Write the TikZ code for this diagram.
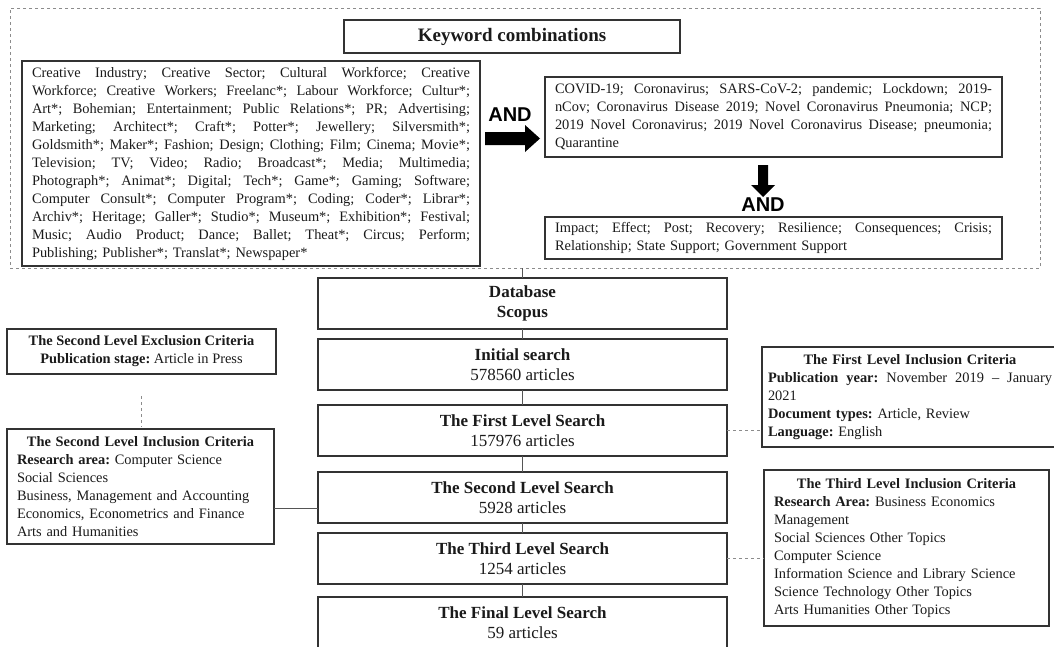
\documentclass[tikz,border=0pt]{standalone}
\usepackage{fontspec}
\setmainfont{Liberation Serif}
\newfontfamily\andfont{Liberation Sans}
\usetikzlibrary{calc}
\definecolor{bordc}{HTML}{333333}
\definecolor{txtc}{HTML}{1A1A1A}
\definecolor{dashc}{HTML}{8C8C8C}
\definecolor{connc}{HTML}{555555}
\newcommand{\jline}[2]{\leavevmode\hbox to #1{\spaceskip=0.25em plus 1fil\relax #2}}
\frenchspacing
\begin{document}
\begin{tikzpicture}[x=1pt,y=-1pt,
  box/.style={draw=bordc, line width=1.1pt, rectangle, inner sep=0pt, outer sep=0pt, text=txtc},
  small/.style={font=\fontsize{14.4}{18}\selectfont\frenchspacing},
  big/.style={font=\fontsize{17}{20.5}\selectfont, align=center},
  dashframe/.style={draw=dashc, dashed, line width=0.7pt, rectangle, inner sep=0pt, outer sep=0pt},
  conn/.style={draw=connc, line width=0.8pt},
  dconn/.style={draw=dashc, dashed, line width=0.8pt},
  andlabel/.style={font=\andfont\bfseries\fontsize{20}{20}\selectfont, inner sep=0pt, text=black},
  arrowfill/.style={fill=black}
]
\useasboundingbox (0,0) rectangle (1054,646);
\clip (0,0) rectangle (1054,646);

% ---------- keyword frame ----------
\node[dashframe, minimum width=1030pt, minimum height=260pt] (frame) at (525,138) {};

\node[box, minimum width=336pt, minimum height=33pt,
      font=\fontsize{19}{22}\selectfont] (kwtitle) at (512,36.5) {\textbf{Keyword combinations}};

\node[box, small, minimum width=458pt, minimum height=205pt, text width=438pt, align=left] (kwleft) at (251,163.5) {%
\jline{438pt}{Creative Industry; Creative Sector; Cultural Workforce; Creative}\\
\jline{438pt}{Workforce; Creative Workers; Freelanc*; Labour Workforce; Cultur*;}\\
\jline{438pt}{Art*; Bohemian; Entertainment; Public Relations*; PR; Advertising;}\\
\jline{438pt}{Marketing; Architect*; Craft*; Potter*; Jewellery; Silversmith*;}\\
\jline{438pt}{Goldsmith*; Maker*; Fashion; Design; Clothing; Film; Cinema; Movie*;}\\
\jline{438pt}{Television; TV; Video; Radio; Broadcast*; Media; Multimedia;}\\
\jline{438pt}{Photograph*; Animat*; Digital; Tech*; Game*; Gaming; Software;}\\
\jline{438pt}{Computer Consult*; Computer Program*; Coding; Coder*; Librar*;}\\
\jline{438pt}{Archiv*; Heritage; Galler*; Studio*; Museum*; Exhibition*; Festival;}\\
\jline{438pt}{Music; Audio Product; Dance; Ballet; Theat*; Circus; Perform;}\\
Publishing; Publisher*; Translat*; Newspaper*};

\node[box, small, minimum width=457pt, minimum height=80pt, text width=437pt, align=left] (covid) at (773.5,117) {%
\jline{437pt}{COVID-19; Coronavirus; SARS-CoV-2; pandemic; Lockdown; 2019-}\\
\jline{437pt}{nCov; Coronavirus Disease 2019; Novel Coronavirus Pneumonia; NCP;}\\
\jline{437pt}{2019 Novel Coronavirus; 2019 Novel Coronavirus Disease; pneumonia;}\\
Quarantine};

\node[box, small, minimum width=457pt, minimum height=42pt, text width=437pt, align=left] (impact) at (773.5,238) {%
\jline{437pt}{Impact; Effect; Post; Recovery; Resilience; Consequences; Crisis;}\\
Relationship; State Support; Government Support};

% AND arrows
\node[andlabel] (andR) at (510,114.5) {AND};
\fill[arrowfill] (485,132) -- (525,132) -- (525,125) -- (540,138.5) -- (525,152) -- (525,145) -- (485,145) -- cycle;
\node[andlabel] (andD) at (763,205) {AND};
\fill[arrowfill] (758,165) -- (768,165) -- (768,185) -- (775,185) -- (763,197) -- (751,185) -- (758,185) -- cycle;

% ---------- central column ----------
\node[box, big, minimum width=409pt, minimum height=51pt] (database) at (522.5,303.5) {\textbf{Database}\\\textbf{Scopus}};
\node[box, big, minimum width=409pt, minimum height=51pt] (initial) at (522.5,364.5) {\textbf{Initial search}\\578560 articles};
\node[box, big, minimum width=409pt, minimum height=51pt] (first) at (522.5,430.5) {\textbf{The First Level Search}\\157976 articles};
\node[box, big, minimum width=409pt, minimum height=51pt] (second) at (522.5,497.5) {\textbf{The Second Level Search}\\5928 articles};
\node[box, big, minimum width=409pt, minimum height=51pt] (third) at (522.5,558.5) {\textbf{The Third Level Search}\\1254 articles};
\node[box, big, minimum width=409pt, minimum height=51pt] (final) at (522.5,622.5) {\textbf{The Final Level Search}\\59 articles};

% ---------- side boxes ----------
\node[box, small, align=center, minimum width=269pt, minimum height=45pt] (excl) at (141.5,351.5)
  {\textbf{The Second Level Exclusion Criteria}\\\textbf{Publication stage:} Article in Press};

\node[box, small, minimum width=267pt, minimum height=115pt, text width=247pt, align=left] (incl2) at (140.5,486.5) {%
\makebox[247pt]{\textbf{The Second Level Inclusion Criteria}}\\
\textbf{Research area:} Computer Science\\
Social Sciences\\
Business, Management and Accounting\\
Economics, Econometrics and Finance\\
Arts and Humanities};

\node[box, small, minimum width=296pt, minimum height=100pt, text width=284pt, align=left] (incl1) at (910,397) {%
\makebox[284pt]{\textbf{The First Level Inclusion Criteria}}\\
\jline{284pt}{\textbf{Publication year:} November 2019 \textendash{} January}\\
2021\\
\textbf{Document types:} Article, Review\\
\textbf{Language:} English};

\node[box, small, minimum width=285pt, minimum height=156pt, text width=265pt, align=left] (incl3) at (906.5,548) {%
\makebox[265pt]{\textbf{The Third Level Inclusion Criteria}}\\
\textbf{Research Area:} Business Economics\\
Management\\
Social Sciences Other Topics\\
Computer Science\\
Information Science and Library Science\\
Science Technology Other Topics\\
Arts Humanities Other Topics};

% ---------- connectors ----------
\draw[conn] (database.north |- frame.south) -- (database.north);
\draw[conn] (database.south) -- (initial.north);
\draw[conn] (initial.south) -- (first.north);
\draw[conn] (first.south) -- (second.north);
\draw[conn] (second.south) -- (third.north);
\draw[conn] (third.south) -- (final.north);
\draw[dconn] (first.east) -- (first.east -| incl1.west);
\draw[dconn] (third.east) -- (third.east -| incl3.west);
\coordinate (c2) at (0,508);
\draw[conn] (incl2.east |- c2) -- (second.west |- c2);
\draw[dconn, shorten <=22pt, shorten >=2pt] (excl.south) -- (excl.south |- incl2.north);
\end{tikzpicture}
\end{document}
